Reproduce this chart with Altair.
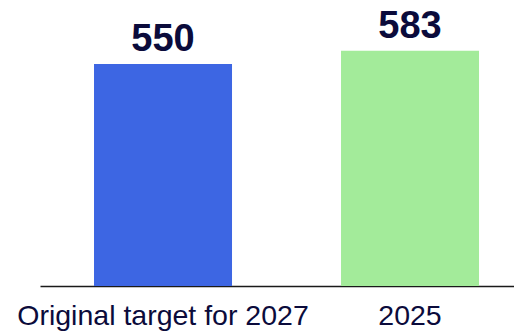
import altair as alt
import pandas as pd

categories = ["Original target for 2027", "2025"]
values = [550, 583]
colors = ["#3D66E3", "#A3EB9A"]

df = pd.DataFrame({"category": categories, "value": values, "color": colors})

x = alt.X(
    "category:N",
    sort=None,
    scale=alt.Scale(paddingInner=0.441, paddingOuter=0.18, align=0.607),
    axis=alt.Axis(
        title=None,
        labelAngle=0,
        labelFont="Liberation Sans",
        labelFontSize=28.5,
        labelColor="#0B0B3B",
        labelBaseline="alphabetic",
        labelPadding=38,
        labelLimit=0,
        labelOverlap=False,
        ticks=False,
        domainColor="#1a1a1a",
        domainWidth=1.6,
        grid=False,
    ),
)
y = alt.Y(
    "value:Q",
    scale=alt.Scale(domain=[0, 708.6], nice=False, zero=True),
    axis=None,
)

bars = alt.Chart(df).mark_bar(size=138).encode(
    x=x, y=y, color=alt.Color("color:N", scale=None, legend=None)
)

labels = alt.Chart(df).mark_text(
    font="Liberation Sans",
    fontWeight="bold",
    fontSize=38,
    color="#0B0B3B",
    baseline="alphabetic",
    dy=-13,
).encode(x=x, y=y, text="value:Q")

chart = (
    alt.layer(bars, labels)
    .properties(
        width=474,
        height=286,
        autosize=alt.AutoSizeParams(type="none"),
        padding={"left": 40, "top": 0, "right": 0, "bottom": 46},
        background="white",
    )
    .configure_view(stroke=None)
)

chart.save("out.html", embed_options={"renderer": "svg", "actions": False})
